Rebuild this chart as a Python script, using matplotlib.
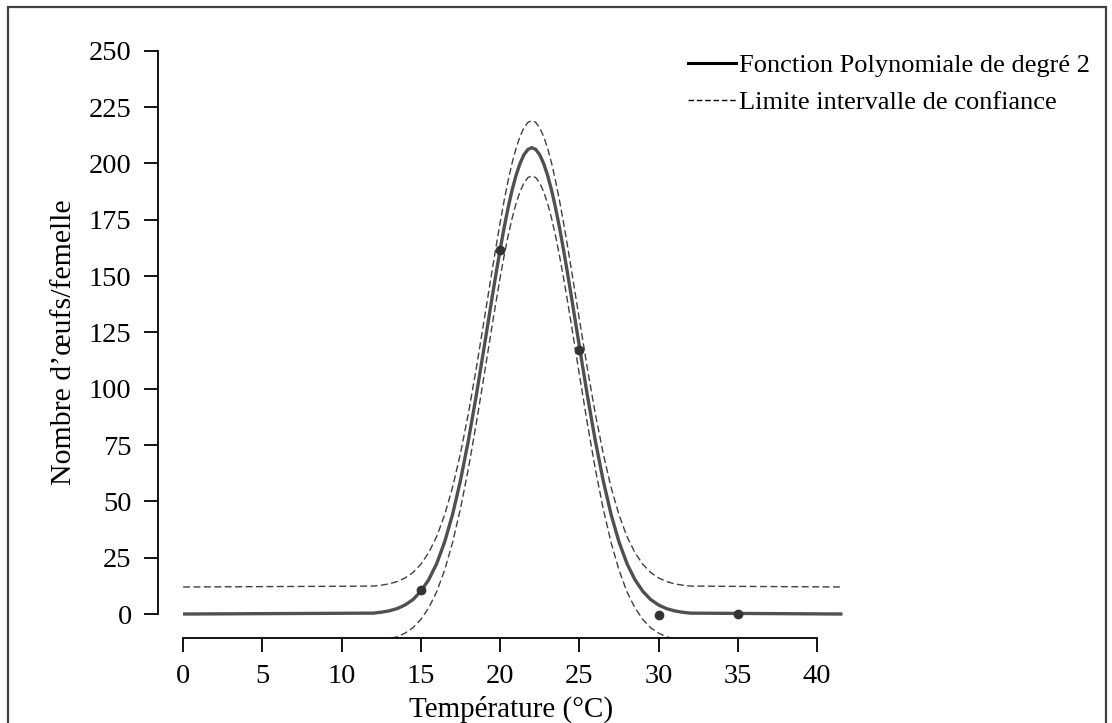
import matplotlib
matplotlib.use("Agg")
import matplotlib.pyplot as plt
from matplotlib.lines import Line2D
from matplotlib.patches import Rectangle

plt.rcParams['font.family'] = ['Liberation Serif', 'DejaVu Serif']

# temperature (°C) where the curves were read
temp = [0, 12, 12.5, 13, 13.5, 14, 14.5, 15, 15.5, 16, 16.5, 17, 17.5, 18, 18.5, 19,
        19.5, 19.75, 20, 20.25, 20.5, 20.75, 21, 21.25, 21.5, 21.75, 22, 22.25, 22.5,
        22.75, 23, 23.25, 23.5, 23.75, 24, 24.25, 24.5,
        25, 25.5, 26, 26.5, 27, 27.5, 28, 28.5, 29, 29.5, 30, 30.5, 31, 31.5, 32, 41.6]

# fitted curve (eggs / female)
fit = [0, 0.4, 0.8, 1.4, 2.4, 4.0, 6.4, 10.1, 15.3, 22.4, 32.0, 44.2, 59.3, 77.1, 97.2, 118.8,
       140.7, 151.4, 161.7, 171.4, 180.2, 188.0, 194.6, 199.9, 203.8, 206.2, 207.0, 206.2,
       203.8, 199.9, 194.6, 188.0, 180.2, 171.4, 161.7, 151.4, 140.7,
       118.8, 97.2, 77.1, 59.3, 44.2, 32.0, 22.4, 15.3, 10.1, 6.4, 4.0, 2.4, 1.4, 0.8, 0.4, 0]

# confidence limits
upper = [12, 12.4, 12.8, 13.4, 14.4, 16.0, 18.4, 22.1, 27.3, 34.4, 44.0, 56.2, 71.3, 89.1,
         109.2, 130.8,
         152.7, 163.4, 173.7, 183.4, 192.2, 200.0, 206.6, 211.9, 215.8, 218.2, 219.0, 218.2,
         215.8, 211.9, 206.6, 200.0, 192.2, 183.4, 173.7, 163.4, 152.7,
         130.8, 109.2, 89.1, 71.3, 56.2, 44.0, 34.4, 27.3, 22.1, 18.4, 16.0, 14.4, 13.4, 12.8,
         12.4, 12]
lower = [-12.5, -12.1, -11.7, -11.1, -10.1, -8.5, -6.1, -2.4, 2.8, 9.9, 19.5, 31.7, 46.8, 64.6,
         84.7, 106.3,
         128.2, 138.9, 149.2, 158.9, 167.7, 175.5, 182.1, 187.4, 191.3, 193.7, 194.5, 193.7,
         191.3, 187.4, 182.1, 175.5, 167.7, 158.9, 149.2, 138.9, 128.2,
         106.3, 84.7, 64.6, 46.8, 31.7, 19.5, 9.9, 2.8, -2.4, -6.1, -8.5, -10.1, -11.1, -11.7,
         -12.1, -12.5]

# observed points
obs_temp = [15, 20, 25, 30, 35]
obs_eggs = [10.8, 161.7, 117.4, -0.3, 0]

xticks = [0, 5, 10, 15, 20, 25, 30, 35, 40]
yticks = [0, 25, 50, 75, 100, 125, 150, 175, 200, 225, 250]

fig = plt.figure(figsize=(11.12, 7.23), dpi=100)
ax = fig.add_axes([0.1421, 0.118, 0.617, 0.818])

dash = (0, (5, 2.5))
ax.plot(temp, upper, color='#404040', lw=1.0, ls=dash)
ax.plot(temp, lower, color='#404040', lw=1.0, ls=dash)
ax.plot(temp, fit, color='#505050', lw=2.4, solid_capstyle='butt')
ax.plot(obs_temp, obs_eggs, 'o', color='#333333', ms=6)

ax.set_xlim(-1.58, 41.7)
ax.set_ylim(-10.5, 252)
ax.set_xticks(xticks)
ax.set_yticks(yticks)
ax.spines['top'].set_visible(False)
ax.spines['right'].set_visible(False)
ax.spines['left'].set_bounds(0, 250)
ax.spines['bottom'].set_bounds(0, 40)
for s in ['left', 'bottom']:
    ax.spines[s].set_linewidth(1.3)
ax.tick_params(direction='out', length=10, width=1.3, labelsize=20.5, pad=9)

ax.set_xlabel('Température (°C)', fontsize=21)
ax.xaxis.set_label_coords(0.514, -0.098)
ax.set_ylabel('Nombre d’œufs/femelle', fontsize=21.5)
ax.yaxis.set_label_coords(-0.118, 0.5)

handles = [Line2D([], [], color='black', lw=2.2),
           Line2D([], [], color='black', lw=1.0, ls=(0, (4, 2)))]
fig.legend(handles, ['Fonction Polynomiale de degré 2', 'Limite intervalle de confiance'],
           loc='upper left', bbox_to_anchor=(0.597, 0.9585), frameon=False,
           fontsize=19, handlelength=1.82, handletextpad=0.12, labelspacing=0.5)

fig.patches.append(Rectangle((8 / 1112, -0.02), 1098 / 1112, 1.0 - 7 / 723 + 0.02,
                             transform=fig.transFigure, fill=False,
                             edgecolor='#404040', lw=1.6))

fig.savefig('out.png', dpi=100)
